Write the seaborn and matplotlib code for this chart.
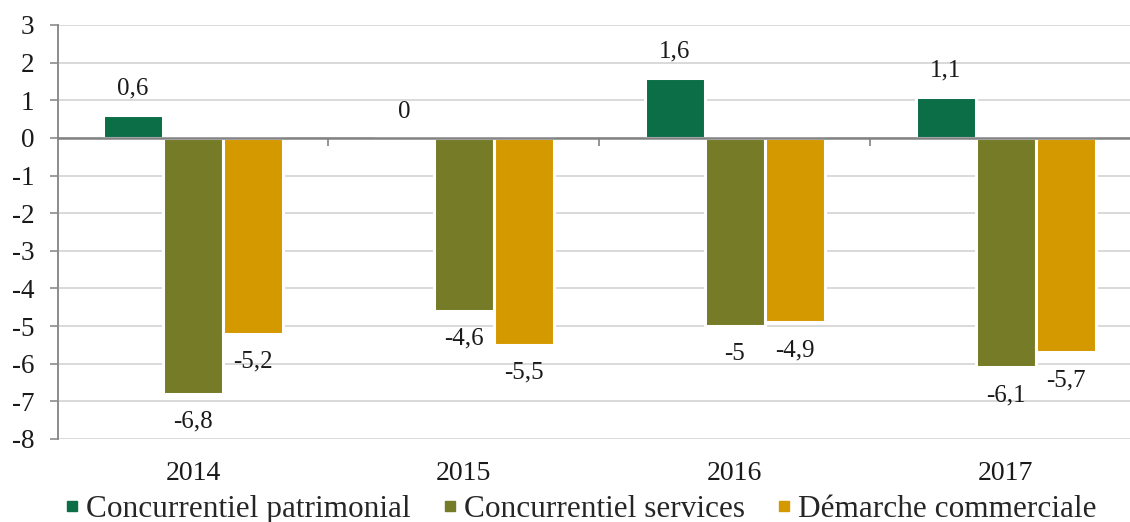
import pandas as pd
import matplotlib
matplotlib.use('Agg')
import matplotlib.pyplot as plt
from matplotlib.lines import Line2D
import seaborn as sns

# Chart data
years = ['2014', '2015', '2016', '2017']
series = ['Concurrentiel patrimonial', 'Concurrentiel services', 'Démarche commerciale']
patrimonial = [0.6, 0.0, 1.6, 1.1]
services = [-6.8, -4.6, -5.0, -6.1]
commerciale = [-5.2, -5.5, -4.9, -5.7]
colors = ['#0B6E47', '#757B27', '#D59900']
y_ticks = list(range(-8, 4))

# Long format for seaborn
df = pd.DataFrame({
    'year': years * 3,
    'serie': [series[0]] * 4 + [series[1]] * 4 + [series[2]] * 4,
    'value': patrimonial + services + commerciale,
})

sns.set_theme(style='white')
plt.rcParams['font.family'] = ['Liberation Serif', 'DejaVu Serif']
plt.rcParams['font.size'] = 19

fig = plt.figure(figsize=(11.3, 5.22), dpi=100)
ax = fig.add_axes([58 / 1130, 1 - 439 / 522, 1 - 58 / 1130, (439 - 25) / 522])

sns.barplot(data=df, x='year', y='value', hue='serie', order=years, hue_order=series,
            palette=colors, saturation=1, width=0.664, gap=0, edgecolor='white',
            linewidth=2.2, errorbar=None, legend=False, ax=ax)

# Value labels with comma decimals
for cont, vals in zip(ax.containers, [patrimonial, services, commerciale]):
    for bar, v in zip(cont, vals):
        lab = f'{v:g}'.replace('.', ',')
        off = 19 if v >= 0 else -20
        ax.annotate(lab, (bar.get_x() + bar.get_width() / 2, v), xytext=(0, off),
                    textcoords='offset points', ha='center', va='center',
                    fontsize=18, color='#1a1a1a')

ax.set_ylim(-8, 3)
ax.set_xlim(-0.498, 3.458)
ax.set_yticks(y_ticks)
ax.set_yticklabels([str(t) for t in y_ticks])
ax.set_xlabel('')
ax.set_ylabel('')
ax.yaxis.grid(True, color='#D9D9D9', linewidth=1.4)
ax.set_axisbelow(True)
for s in ['top', 'right', 'bottom']:
    ax.spines[s].set_visible(False)
ax.spines['left'].set_color('#8C8C8C')
ax.spines['left'].set_linewidth(1.4)
ax.tick_params(axis='y', direction='out', length=6, width=1.2, color='#8C8C8C',
               pad=11, labelsize=19.5, labelcolor='#1a1a1a', left=True)
ax.tick_params(axis='x', length=0, pad=16, labelsize=20, labelcolor='#1a1a1a')

# Horizontal axis line at zero with category separators
sec = ax.secondary_xaxis(0, transform=ax.transData)
sec.set_xticks([0.5, 1.5, 2.5])
sec.tick_params(direction='out', length=6, width=1.2, color='#828282', labelbottom=False)
sec.spines['bottom'].set_color('#828282')
sec.spines['bottom'].set_linewidth(1.8)
sec.set_zorder(5)

handles = [Line2D([0], [0], marker='s', linestyle='none', markersize=6.5,
                  markerfacecolor=c, markeredgecolor=c) for c in colors]
fig.legend(handles, series, loc='center', bbox_to_anchor=(0.515, 0.024), ncol=3,
           frameon=False, fontsize=22.5, handlelength=0.3, handletextpad=0.3,
           columnspacing=1.1, borderaxespad=0, borderpad=0)

fig.savefig('out.png', dpi=100)
